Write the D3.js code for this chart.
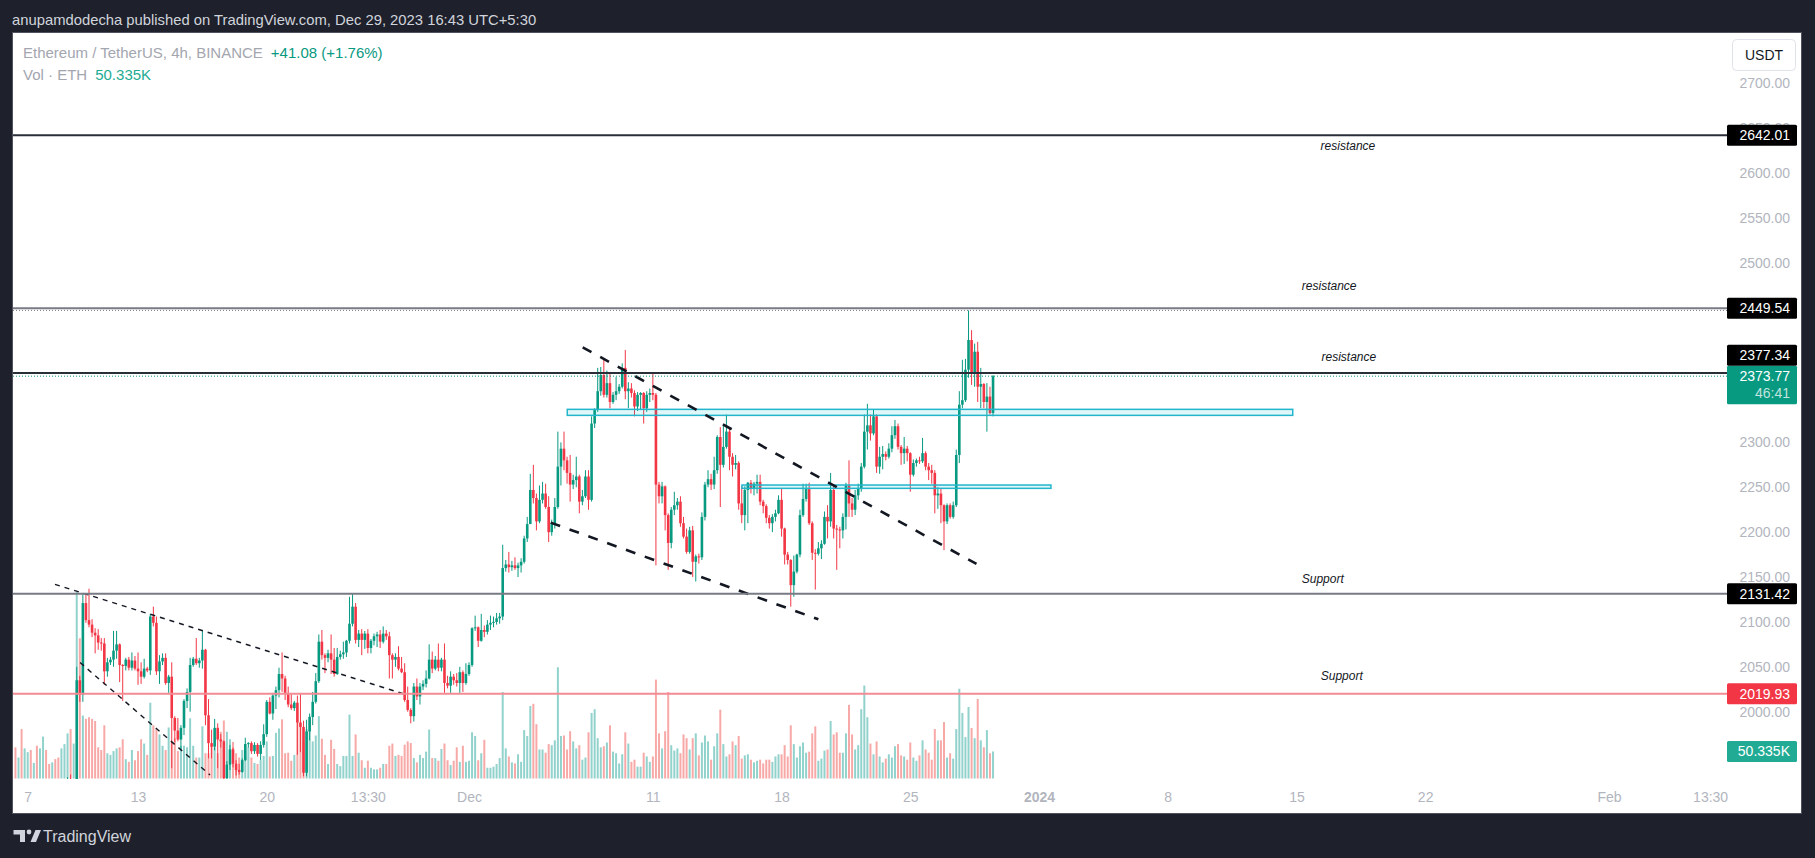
<!DOCTYPE html>
<html>
<head>
<meta charset="utf-8">
<title>Ethereum / TetherUS, 4h, BINANCE</title>
<script src="https://cdn.jsdelivr.net/npm/d3@7"></script>
<style>
  html, body { margin: 0; padding: 0; background: #1e212b; }
  svg { display: block; font-family: "Liberation Sans", Arial, sans-serif; }
</style>
</head>
<body>
<script>
// ---- 4h candles, first bar 2023-11-06 04:00 UTC ----
const opens = [
  1893,1888,1894,1884,1890,1893,1886,1890,1885,1889,1898,1894,1892,1895,1893,1890,1896,1907,1916,1909,
  1912,2035,2019,2121,2102,2097,2088,2085,2077,2076,2045,2055,2058,2068,2075,2052,2051,2058,2049,2057,
  2048,2045,2039,2048,2046,2106,2099,2045,2056,2060,2032,2039,1993,1979,1969,1982,2012,2022,2052,2059,
  2054,2057,2069,1996,1965,1961,1982,1969,1967,1926,1941,1958,1942,1935,1933,1946,1964,1965,1956,1963,
  1953,1963,1975,2011,1998,2018,2024,2042,2037,2021,2008,2004,2010,1988,1983,1932,1978,1994,2011,2034,
  2078,2063,2060,2065,2058,2042,2061,2064,2066,2079,2098,2117,2080,2087,2080,2087,2071,2079,2084,2086,
  2078,2087,2084,2063,2058,2061,2048,2044,2013,2002,1995,2028,2017,2028,2031,2037,2058,2048,2058,2049,
  2058,2032,2029,2039,2035,2032,2044,2032,2042,2052,2093,2094,2079,2091,2089,2097,2099,2100,2104,2106,
  2160,2164,2161,2163,2160,2163,2167,2193,2209,2247,2238,2212,2236,2243,2228,2200,2210,2228,2273,2293,
  2280,2266,2253,2258,2262,2234,2240,2262,2236,2321,2336,2357,2375,2353,2366,2345,2353,2357,2362,2383,
  2357,2360,2355,2340,2353,2355,2338,2353,2355,2353,2253,2240,2251,2219,2188,2225,2230,2234,2210,2195,
  2178,2202,2167,2173,2172,2217,2253,2259,2253,2269,2306,2275,2295,2312,2284,2275,2277,2232,2219,2247,
  2255,2249,2254,2256,2234,2229,2216,2210,2217,2221,2236,2204,2175,2169,2141,2156,2175,2219,2237,2248,
  2210,2177,2176,2182,2187,2217,2212,2247,2204,2203,2202,2217,2252,2232,2225,2241,2249,2273,2312,2319,
  2310,2329,2273,2284,2287,2284,2293,2308,2318,2295,2288,2293,2288,2264,2277,2280,2279,2288,2273,2269,
  2266,2241,2243,2230,2212,2230,2217,2230,2286,2342,2347,2381,2414,2378,2401,2362,2365,2345,2351,2332.69
];
const highs = [
  1899,1896,1905,1892,1897,1898,1892,1900,1893,1902,1904,1897,1897,1899,1897,1898,1910,1927,1930,1918,
  2050,2040,2131,2131,2137,2103,2093,2092,2082,2082,2060,2061,2090,2090,2076,2053,2060,2061,2066,2062,
  2066,2055,2059,2050,2109,2117,2106,2063,2065,2065,2041,2055,1995,1993,1985,2014,2026,2060,2061,2082,
  2060,2091,2070,2014,1980,1992,1987,1975,1968,1945,1963,1960,1946,1942,1948,1971,1966,1967,1966,1965,
  1967,1986,2013,2016,2021,2028,2049,2066,2040,2028,2020,2012,2018,2020,1990,1991,1998,2022,2043,2086,
  2091,2065,2069,2086,2071,2071,2068,2078,2080,2128,2132,2121,2091,2092,2090,2092,2081,2087,2089,2091,
  2095,2091,2089,2065,2065,2073,2061,2054,2028,2004,2032,2037,2032,2035,2046,2075,2067,2062,2076,2060,
  2076,2040,2045,2042,2043,2050,2046,2054,2055,2094,2107,2095,2109,2096,2102,2107,2106,2110,2110,2186,
  2169,2178,2168,2172,2166,2171,2196,2217,2265,2275,2243,2252,2256,2254,2240,2214,2238,2312,2300,2312,
  2284,2286,2264,2284,2264,2247,2269,2269,2329,2338,2383,2384,2392,2380,2377,2356,2373,2365,2388,2403,
  2367,2366,2358,2356,2356,2356,2357,2360,2378,2355,2256,2256,2252,2221,2228,2245,2238,2240,2217,2204,
  2206,2207,2175,2176,2222,2256,2269,2265,2284,2308,2317,2319,2331,2316,2288,2286,2279,2251,2251,2256,
  2258,2256,2264,2264,2236,2231,2219,2220,2225,2241,2249,2205,2178,2170,2174,2176,2225,2254,2254,2255,
  2212,2181,2189,2191,2223,2230,2266,2253,2208,2206,2221,2255,2280,2238,2247,2254,2277,2331,2343,2331,
  2337,2331,2295,2296,2290,2299,2318,2325,2321,2297,2306,2296,2289,2281,2282,2284,2305,2290,2277,2275,
  2269,2250,2249,2231,2232,2232,2234,2292,2357,2392,2393,2447,2425,2410,2412,2383,2366,2366,2362,2375
];
const lows = [
  1885,1884,1879,1878,1886,1883,1884,1882,1880,1886,1890,1889,1888,1891,1887,1886,1893,1902,1905,1901,
  1905,2011,2011,2099,2094,2083,2065,2069,2068,2030,2039,2052,2050,2059,2033,2012,2046,2046,2046,2046,
  2030,2031,2037,2044,2041,2095,2041,2031,2052,2030,2021,1937,1966,1967,1957,1974,2004,2000,2050,2052,
  2049,2048,1985,1948,1948,1957,1937,1960,1920,1920,1935,1938,1929,1930,1932,1945,1960,1953,1953,1950,
  1946,1960,1972,1997,1991,2003,2016,2022,2013,2005,2002,2001,1952,1955,1928,1928,1968,1985,2009,2032,
  2058,2043,2055,2042,2039,2041,2058,2059,2061,2076,2095,2076,2072,2063,2070,2065,2065,2074,2072,2071,
  2076,2080,2037,2037,2050,2046,2043,2011,2000,1987,1989,2013,2008,2024,2027,2036,2043,2046,2045,2045,
  2021,2026,2021,2030,2028,2021,2022,2030,2040,2050,2090,2072,2078,2083,2086,2091,2094,2097,2098,2102,
  2156,2155,2157,2158,2150,2155,2165,2189,2209,2232,2202,2210,2232,2226,2189,2196,2204,2226,2252,2269,
  2254,2234,2248,2250,2221,2230,2238,2225,2234,2316,2334,2352,2350,2350,2338,2343,2347,2354,2360,2348,
  2338,2350,2329,2335,2336,2321,2334,2345,2347,2163,2232,2232,2202,2158,2182,2219,2225,2206,2193,2176,
  2176,2150,2145,2165,2169,2213,2250,2247,2248,2265,2228,2272,2293,2269,2262,2270,2225,2210,2202,2210,
  2243,2241,2243,2230,2221,2210,2204,2200,2212,2220,2195,2164,2164,2117,2128,2154,2172,2217,2234,2208,
  2169,2136,2174,2170,2186,2193,2206,2193,2158,2182,2193,2203,2217,2217,2219,2236,2245,2271,2292,2302,
  2308,2266,2265,2270,2280,2282,2289,2304,2292,2275,2276,2279,2245,2262,2273,2276,2277,2269,2258,2254,
  2221,2226,2210,2180,2209,2215,2215,2228,2277,2338,2345,2372,2364,2362,2345,2338,2338,2312,2331,2329
];
const closes = [
  1888,1894,1884,1890,1893,1886,1890,1885,1889,1898,1894,1892,1895,1893,1890,1896,1907,1916,1909,1912,
  2035,2019,2121,2102,2097,2088,2085,2077,2076,2045,2055,2058,2068,2075,2052,2051,2058,2049,2057,2048,
  2045,2039,2048,2046,2106,2099,2045,2056,2060,2032,2039,1993,1979,1969,1982,2012,2022,2052,2059,2054,
  2057,2069,1996,1965,1961,1982,1969,1967,1926,1941,1958,1942,1935,1933,1946,1964,1965,1956,1963,1953,
  1963,1975,2011,1998,2018,2024,2042,2037,2021,2008,2004,2010,1988,1983,1932,1978,1994,2011,2034,2078,
  2063,2060,2065,2058,2042,2061,2064,2066,2079,2098,2117,2080,2087,2080,2087,2071,2079,2084,2086,2078,
  2087,2084,2063,2058,2061,2048,2044,2013,2002,1995,2028,2017,2028,2031,2037,2058,2048,2058,2049,2058,
  2032,2029,2039,2035,2032,2044,2032,2042,2052,2093,2094,2079,2091,2089,2097,2099,2100,2104,2106,2160,
  2164,2161,2163,2160,2163,2167,2193,2209,2247,2238,2212,2236,2243,2228,2200,2210,2228,2273,2293,2280,
  2266,2253,2258,2262,2234,2240,2262,2236,2321,2336,2357,2375,2353,2366,2345,2353,2357,2362,2383,2357,
  2360,2355,2340,2353,2355,2338,2353,2355,2353,2253,2240,2251,2219,2188,2225,2230,2234,2210,2195,2178,
  2202,2167,2173,2172,2217,2253,2259,2253,2269,2306,2275,2295,2312,2284,2275,2277,2232,2219,2247,2255,
  2249,2254,2256,2234,2229,2216,2210,2217,2221,2236,2204,2175,2169,2141,2156,2175,2219,2237,2248,2210,
  2177,2176,2182,2187,2217,2212,2247,2204,2203,2202,2217,2252,2232,2225,2241,2249,2273,2312,2319,2310,
  2329,2273,2284,2287,2284,2293,2308,2318,2295,2288,2293,2288,2264,2277,2280,2279,2288,2273,2269,2266,
  2241,2243,2230,2212,2230,2217,2230,2286,2342,2347,2381,2414,2378,2401,2362,2365,2345,2351,2332.69,2373.77
];
// volume in thousands of ETH
const volumes = [
  58,39,92,56,49,53,29,61,56,78,53,27,30,36,39,56,64,84,92,65,
  347,261,117,111,114,111,107,58,53,99,47,44,51,56,58,73,36,31,53,34,
  51,73,65,44,141,99,92,82,61,53,95,68,75,51,61,61,58,112,61,39,
  39,97,47,47,60,58,47,87,108,87,73,68,47,39,53,41,58,39,29,27,
  34,42,69,41,42,85,93,110,47,48,33,44,110,100,69,92,116,69,80,116,
  74,44,27,72,55,27,23,42,42,119,42,82,48,34,20,33,20,17,17,20,
  27,27,61,65,42,44,42,63,69,66,38,30,44,38,50,91,38,38,33,55,
  65,34,25,33,58,31,61,31,33,86,79,34,47,72,20,20,22,27,38,161,
  56,41,30,28,45,31,90,79,135,139,101,54,54,48,64,62,71,207,79,80,
  54,88,69,56,62,35,39,86,122,129,75,58,60,67,99,50,47,28,45,86,
  65,31,35,22,22,48,41,31,41,184,84,56,88,161,62,52,56,47,82,75,
  54,75,84,43,67,80,69,35,60,84,128,64,41,45,69,62,79,37,43,45,
  35,30,33,35,28,35,35,31,41,45,45,62,41,99,64,39,60,67,48,50,
  84,97,33,37,52,54,107,82,86,48,48,84,137,82,54,62,129,173,114,65,
  45,69,41,30,37,45,39,60,64,43,41,35,67,39,33,43,71,54,48,35,
  92,71,71,105,39,47,37,92,167,122,77,133,94,75,148,71,58,90,47,50.335
];

// ---- price axis and time axis ----
const priceTicks = d3.range(2000, 2701, 50);
const timeTicks = [
  Date.UTC(2023,10,6,20), Date.UTC(2023,10,12,20), Date.UTC(2023,10,19,20), Date.UTC(2023,10,25,8),
  Date.UTC(2023,10,30,20), Date.UTC(2023,11,10,20), Date.UTC(2023,11,17,20), Date.UTC(2023,11,24,20),
  Date.UTC(2023,11,31,20), Date.UTC(2024,0,7,20), Date.UTC(2024,0,14,20), Date.UTC(2024,0,21,20),
  Date.UTC(2024,0,31,20), Date.UTC(2024,1,6,8)
];
const timeLabels = ["7","13","20","13:30","Dec","11","18","25","2024","8","15","22","Feb","13:30"];

// ---- drawings (bar index, price) ----
const levels = [2642.01, 2449.54, 2377.34, 2131.42, 2019.93];
const levelNotes = ["resistance", "resistance", "resistance", "Support", "Support"];
const notePoints = [[434.8, 2630.2], [428.7, 2474.2], [435.1, 2395.7], [426.6, 2147.8], [432.8, 2039.8]];
const zoneFrom = [[180.07, 2336.8], [237.07, 2252.5]];
const zoneTo = [[416.8, 2330.1], [337.9, 2248.8]];
const trendFrom = [[185.1, 2405.9], [174.66, 2210.6], [12.9, 2141.9], [21.1, 2054.7]];
const trendTo = [[313.6, 2164.6], [262, 2102.9], [127.1, 2019.4], [63.5, 1929.5]];
const countdown = "46:41";

// ---- layout ----
const W = 1815, H = 858;
const frame = {left: 13, top: 33, right: 1801, bottom: 813};
const pane = {left: 13, top: 33, right: 1727, bottom: 779};
const up = "#089981", down = "#f23645";

const t0 = Date.UTC(2023, 10, 6, 4);
const barMs = 4 * 3600e3;
const barTime = i => new Date(t0 + i * barMs);

const x = d3.scaleUtc()
  .domain([new Date(Date.UTC(2023,10,30,20)), new Date(Date.UTC(2024,0,31,20))])
  .range([469, 1609]);
const y = d3.scaleLinear().domain([2000, 2700]).range([711.7, 83.3]);
const v = d3.scaleLinear()
  .domain([0, d3.max(volumes)])
  .range([pane.bottom - 0.5, pane.bottom - 0.5 - 0.25 * (pane.bottom - pane.top)]);

const bars = closes.map((c, i) => ({t: barTime(i), o: opens[i], h: highs[i], l: lows[i], c: c, v: volumes[i]}));

const svg = d3.select("body").append("svg").attr("width", W).attr("height", H);
svg.append("rect").attr("width", W).attr("height", H).attr("fill", "#1e212b");
svg.append("rect")
  .attr("x", frame.left - 0.5).attr("y", frame.top - 0.5)
  .attr("width", frame.right - frame.left + 1).attr("height", frame.bottom - frame.top + 1)
  .attr("fill", "#ffffff").attr("stroke", "#50535e");

svg.append("defs").append("clipPath").attr("id", "pane")
  .append("rect").attr("x", pane.left).attr("y", pane.top)
  .attr("width", pane.right - pane.left).attr("height", pane.bottom - pane.top);

const plot = svg.append("g").attr("clip-path", "url(#pane)");

// volume
plot.append("g").selectAll("rect").data(bars).join("rect")
  .attr("x", d => x(d.t) - 1).attr("width", 2)
  .attr("y", d => v(d.v)).attr("height", d => v(0) - v(d.v))
  .attr("fill", d => d.c >= d.o ? "#92d2cc" : "#f7a9a7");

// candles
const cg = plot.append("g");
cg.selectAll("line").data(bars).join("line")
  .attr("x1", d => x(d.t)).attr("x2", d => x(d.t))
  .attr("y1", d => y(d.h)).attr("y2", d => y(d.l))
  .attr("stroke", d => d.c >= d.o ? up : down).attr("stroke-width", 1);
cg.selectAll("rect").data(bars).join("rect")
  .attr("x", d => x(d.t) - 1.3).attr("width", 2.6)
  .attr("y", d => y(Math.max(d.o, d.c)))
  .attr("height", d => Math.max(1, Math.abs(y(d.o) - y(d.c))))
  .attr("fill", d => d.c >= d.o ? up : down);

// zones
const zones = zoneFrom.map((p, i) => ({a: p, b: zoneTo[i]}));
plot.append("g").selectAll("rect").data(zones).join("rect")
  .attr("x", d => x(barTime(d.a[0]))).attr("width", d => x(barTime(d.b[0])) - x(barTime(d.a[0])))
  .attr("y", d => y(d.a[1])).attr("height", d => y(d.b[1]) - y(d.a[1]))
  .attr("fill", "rgba(0,188,212,0.12)").attr("stroke", "#22b5cc").attr("stroke-width", 1.5);

// trend lines
const trends = trendFrom.map((p, i) => ({a: p, b: trendTo[i], thick: i < 2}));
plot.append("g").selectAll("line").data(trends).join("line")
  .attr("x1", d => x(barTime(d.a[0]))).attr("y1", d => y(d.a[1]))
  .attr("x2", d => x(barTime(d.b[0]))).attr("y2", d => y(d.b[1]))
  .attr("stroke", "#131722")
  .attr("stroke-width", d => d.thick ? 2.6 : 1.4)
  .attr("stroke-dasharray", d => d.thick ? "10 10" : "5 5");

// horizontal levels
const levelColors = ["#2a2e39", "#787b86", "#2a2e39", "#787b86", "#f28b93"];
plot.append("g").selectAll("line").data(levels).join("line")
  .attr("x1", pane.left).attr("x2", pane.right)
  .attr("y1", d => y(d)).attr("y2", d => y(d))
  .attr("stroke", (d, i) => levelColors[i]).attr("stroke-width", 2);

// high and last price dotted lines
const hiPrice = d3.max(highs), last = closes[closes.length - 1], prev = closes[closes.length - 2];
plot.append("line").attr("x1", pane.left).attr("x2", pane.right)
  .attr("y1", y(hiPrice)).attr("y2", y(hiPrice))
  .attr("stroke", "#787b86").attr("stroke-width", 1).attr("stroke-dasharray", "1 2");
plot.append("line").attr("x1", pane.left).attr("x2", pane.right)
  .attr("y1", y(last)).attr("y2", y(last))
  .attr("stroke", up).attr("stroke-width", 1).attr("stroke-dasharray", "1 2");

// notes
plot.append("g").selectAll("text").data(levelNotes).join("text")
  .attr("x", (d, i) => x(barTime(notePoints[i][0])))
  .attr("y", (d, i) => y(notePoints[i][1]))
  .attr("dy", "0.35em").attr("text-anchor", "middle")
  .attr("font-size", 12).attr("font-style", "italic").attr("fill", "#131722")
  .text(d => d);

// where the price labels sit, so the axis can skip covered ticks
const boxH = 21;
const curTop = y(last) - 10.5, curBot = y(last) + 28;
const levelY = levels.map(p => {
  const cy = y(p);
  return (cy + boxH / 2 > curTop && cy - boxH / 2 < curBot) ? curTop - boxH / 2 : cy;
});
const taken = [[curTop, curBot]].concat(levelY.map(cy => [cy - boxH / 2, cy + boxH / 2]));
const visibleTicks = priceTicks.filter(p => !taken.some(([a, b]) => y(p) > a + 4 && y(p) < b - 4));

// price axis
const yAxis = svg.append("g").attr("transform", `translate(${pane.right},0)`)
  .call(d3.axisRight(y).tickValues(visibleTicks).tickFormat(d3.format(".2f")).tickSize(0));
yAxis.select(".domain").remove();
yAxis.selectAll("text").attr("x", 63).attr("text-anchor", "end")
  .attr("font-size", 14).attr("font-family", "Liberation Sans, Arial, sans-serif").attr("fill", "#b2b5be");

// time axis
const xAxis = svg.append("g").attr("transform", "translate(0,797)")
  .call(d3.axisBottom(x).tickValues(timeTicks.map(t => new Date(t)))
    .tickFormat((d, i) => timeLabels[i]).tickSize(0).tickPadding(0));
xAxis.select(".domain").remove();
xAxis.selectAll("text").attr("y", 0).attr("dy", "0.35em")
  .attr("font-size", 14).attr("font-family", "Liberation Sans, Arial, sans-serif").attr("fill", "#b2b5be")
  .attr("font-weight", d => +d === Date.UTC(2023,11,31,20) ? "bold" : null);

// price labels
const fmt = d3.format(".2f");
const lab = svg.append("g");
const boxX = pane.right, boxW = 70, textX = 1790;
lab.append("rect").attr("x", boxX).attr("y", curTop).attr("width", boxW).attr("height", curBot - curTop)
  .attr("rx", 1.5).attr("fill", up);
lab.append("text").attr("x", textX).attr("y", y(last)).attr("dy", "0.35em").attr("text-anchor", "end")
  .attr("font-size", 14).attr("fill", "#ffffff").text(fmt(last));
lab.append("text").attr("x", textX).attr("y", y(last) + 17).attr("dy", "0.35em").attr("text-anchor", "end")
  .attr("font-size", 14).attr("fill", "#ffffff").attr("fill-opacity", 0.75).text(countdown);

const levelBoxes = ["#000000", "#000000", "#000000", "#000000", "#f23645"];
levels.forEach((p, i) => {
  const cy = levelY[i];
  lab.append("rect").attr("x", boxX).attr("y", cy - boxH / 2).attr("width", boxW).attr("height", boxH)
    .attr("rx", 1.5).attr("fill", levelBoxes[i]);
  lab.append("text").attr("x", textX).attr("y", cy).attr("dy", "0.35em").attr("text-anchor", "end")
    .attr("font-size", 14).attr("fill", "#ffffff").text(fmt(p));
});

const lastVol = volumes[volumes.length - 1];
lab.append("rect").attr("x", boxX).attr("y", v(lastVol) - boxH / 2).attr("width", boxW).attr("height", boxH)
  .attr("rx", 1.5).attr("fill", "#22ab94");
lab.append("text").attr("x", textX).attr("y", v(lastVol)).attr("dy", "0.35em").attr("text-anchor", "end")
  .attr("font-size", 14).attr("fill", "#ffffff").text(d3.format(".3f")(lastVol) + "K");

// currency button
lab.append("rect").attr("x", 1732.5).attr("y", 39.5).attr("width", 63).attr("height", 31).attr("rx", 4)
  .attr("fill", "#ffffff").attr("stroke", "#e0e3eb");
lab.append("text").attr("x", 1764).attr("y", 55).attr("dy", "0.35em").attr("text-anchor", "middle")
  .attr("font-size", 14).attr("fill", "#131722").text("USDT");

// legend
const chg = last - prev;
const legend = svg.append("g").attr("font-size", 15);
const t1 = legend.append("text").attr("x", 23).attr("y", 53).attr("dy", "0.35em").attr("fill", "#a3a6af");
t1.append("tspan").text("Ethereum / TetherUS, 4h, BINANCE");
t1.append("tspan").attr("dx", 8).attr("fill", up)
  .text(`+${fmt(chg)} (+${fmt(chg / prev * 100)}%)`);
const t2 = legend.append("text").attr("x", 23).attr("y", 75).attr("dy", "0.35em").attr("fill", "#a3a6af");
t2.append("tspan").text("Vol \u00b7 ETH");
t2.append("tspan").attr("dx", 8).attr("fill", "#22ab94").text(d3.format(".3f")(lastVol) + "K");

// header and footer
svg.append("text").attr("x", 12).attr("y", 20).attr("dy", "0.35em")
  .attr("font-size", 14.8).attr("fill", "#d1d4dc")
  .text("anupamdodecha published on TradingView.com, Dec 29, 2023 16:43 UTC+5:30");

const logo = svg.append("g").attr("fill", "#d1d4dc");
logo.append("path").attr("d", "M13.5,830 H25 V842 H20 V834.5 H13.5 Z");
logo.append("circle").attr("cx", 29).attr("cy", 832).attr("r", 2.4);
logo.append("path").attr("d", "M30.5,842 L35.5,830 H41 L36,842 Z");
svg.append("text").attr("x", 43).attr("y", 836).attr("dy", "0.35em")
  .attr("font-size", 16).attr("fill", "#d1d4dc").text("TradingView");
</script>
</body>
</html>
